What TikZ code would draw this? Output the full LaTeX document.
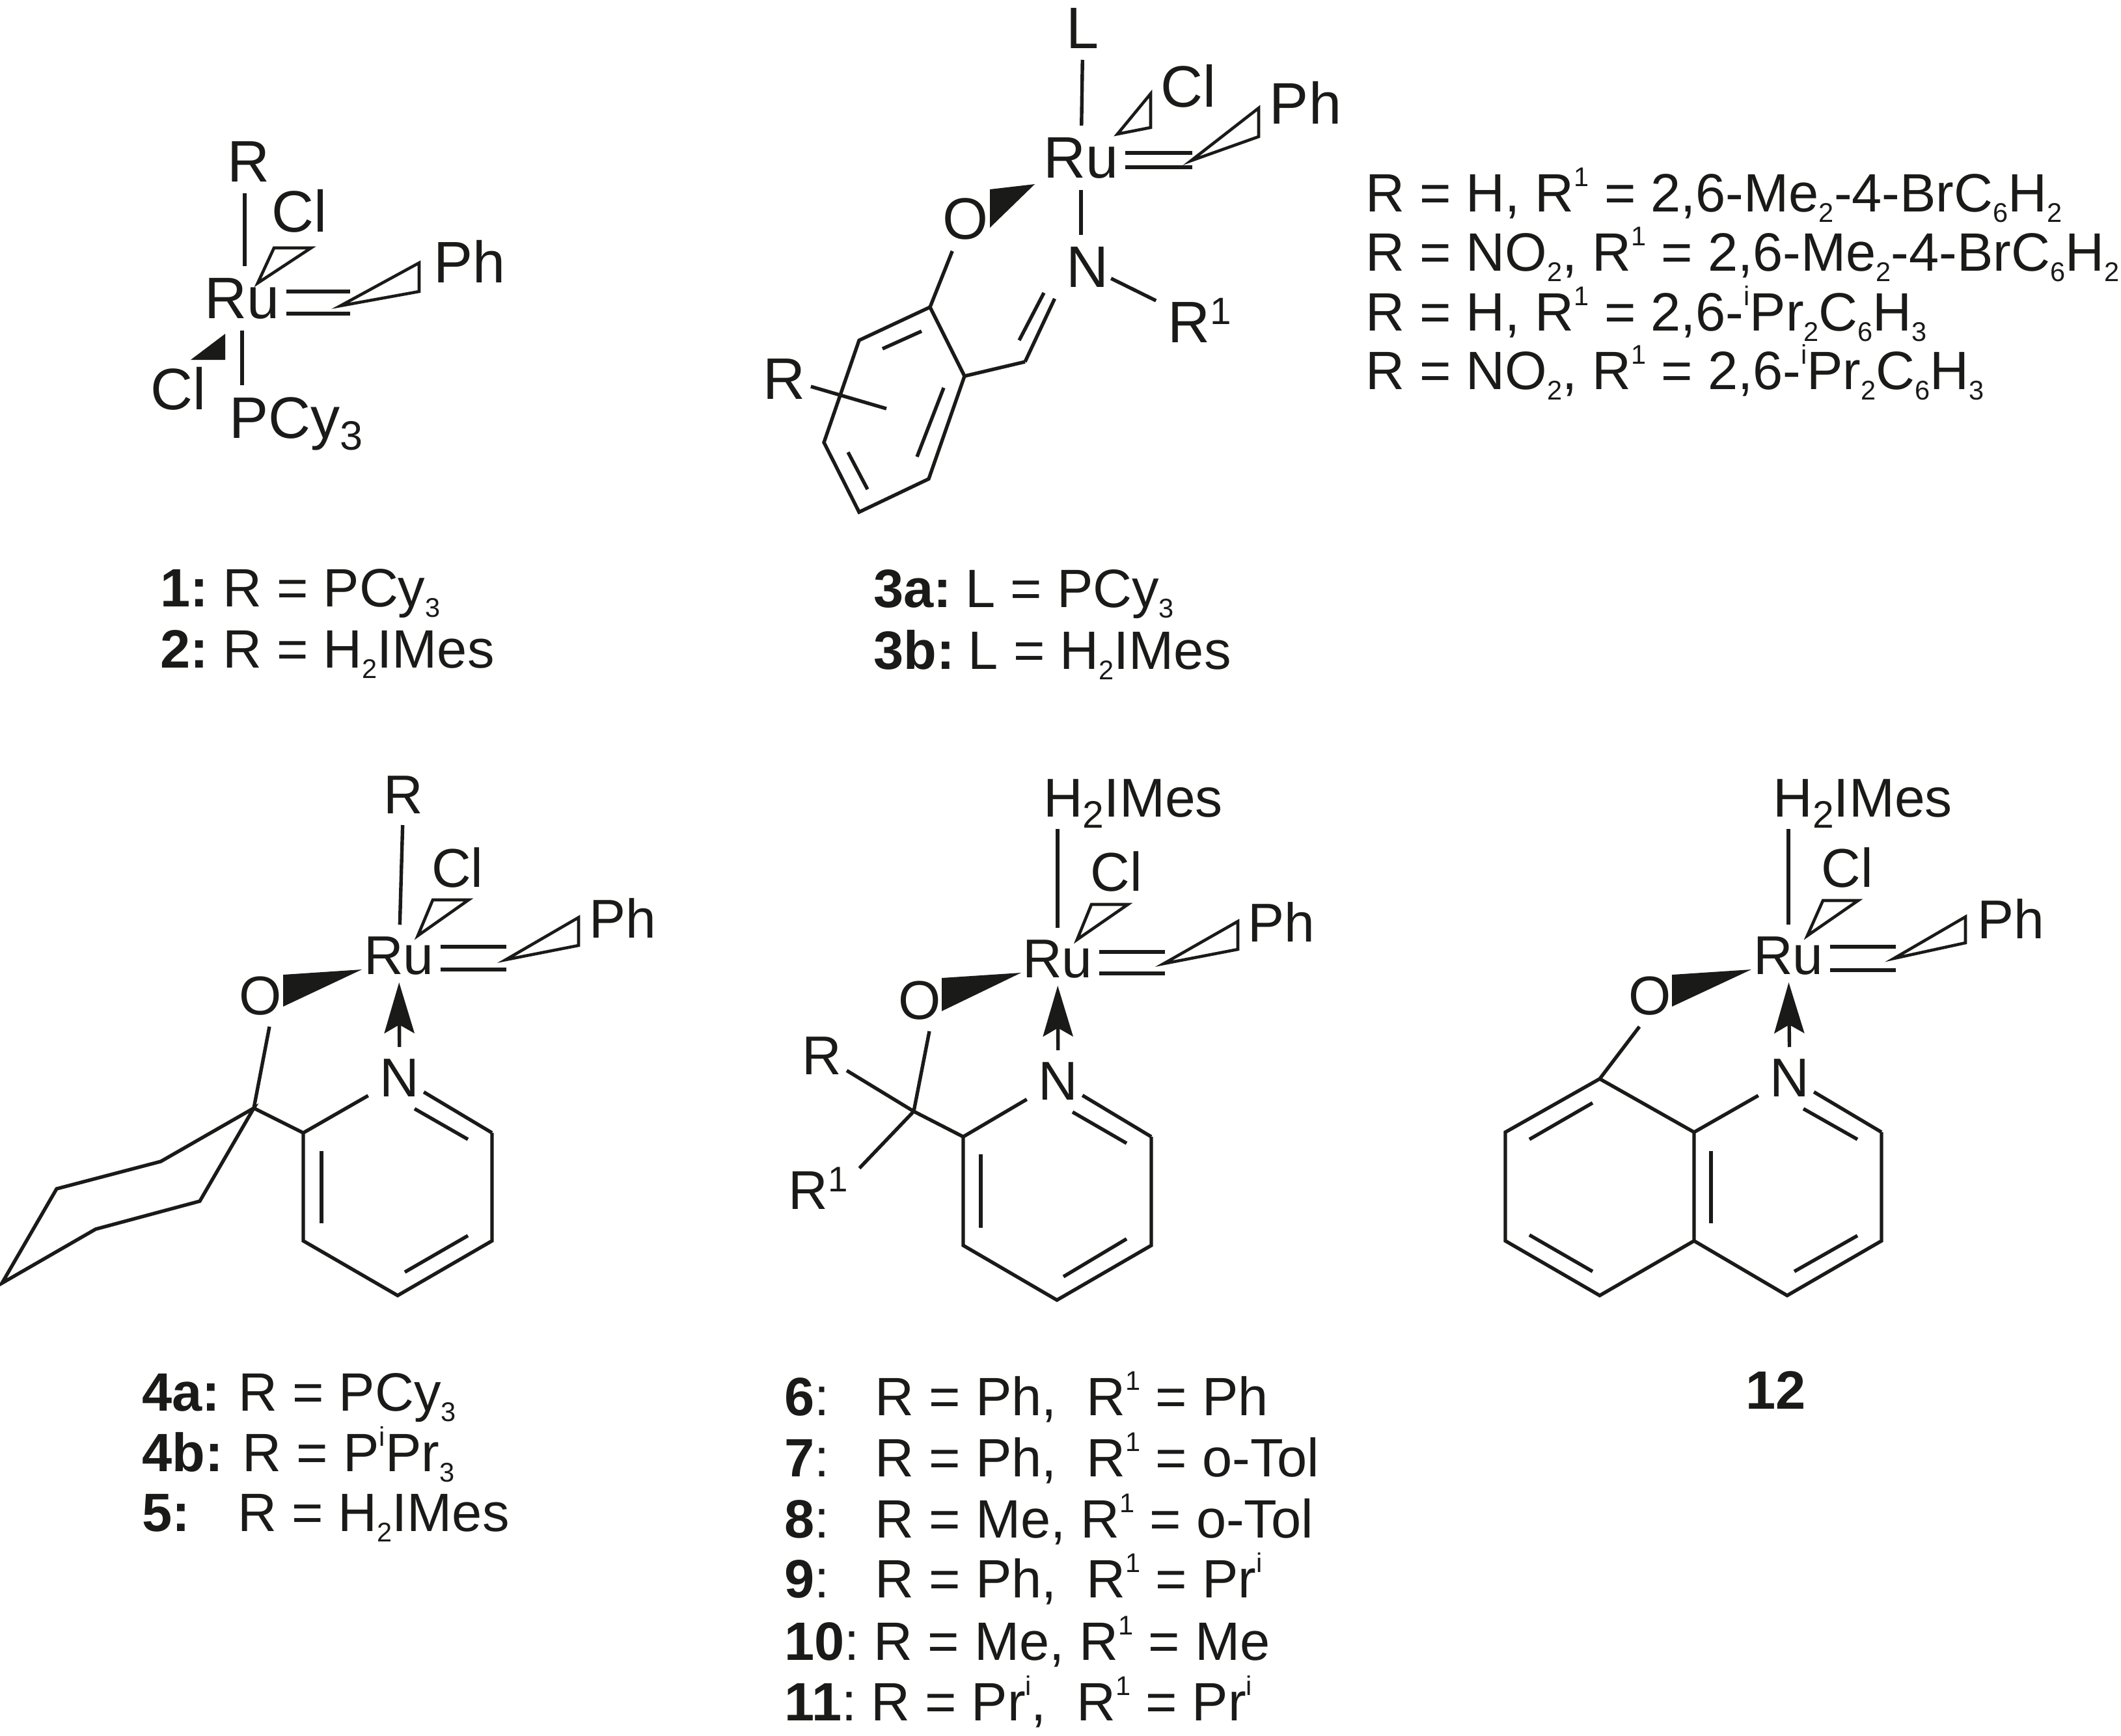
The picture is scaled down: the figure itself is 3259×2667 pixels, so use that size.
\documentclass[tikz,border=0pt]{standalone}
\usepackage{fontspec}
\setmainfont{Liberation Sans}
\usetikzlibrary{arrows.meta}
\definecolor{ink}{HTML}{1A1A18}
% sub- and superscripts that leave the node size alone
\newcommand{\capsub}[1]{\raisebox{-.2em}[0pt][0pt]{\scalebox{.5}{#1}}}
\newcommand{\capsup}[1]{\raisebox{.46em}[0pt][0pt]{\scalebox{.5}{#1}}}
\newcommand{\atomsub}[1]{\raisebox{-.21em}[0pt][0pt]{\scalebox{.7}{#1}}}
\newcommand{\atomsup}[1]{\raisebox{.31em}[0pt][0pt]{\scalebox{.65}{#1}}}
\tikzset{
    atom/.style={inner sep=0pt,outer sep=9pt,anchor=base,font=\fontsize{42}{50}\selectfont},
    atombig/.style={atom,font=\fontsize{45}{50}\selectfont},
    caption/.style={inner sep=0pt,anchor=base west,font=\fontsize{41.5}{50}\selectfont},
    bond/.style={line width=2.7pt},
    dbl/.style={bond,shorten <=-4pt},
    hollow/.style={line width=2.3pt},
    dative/.style={bond,-{Stealth[length=39pt,width=23pt,inset=6.5pt]},shorten >=-3pt}
}
\begin{document}
\begin{tikzpicture}[x=.5pt,y=-.5pt,color=ink]
    \useasboundingbox (0,0) rectangle (3259,2667);

    % compound 1 and 2
    \node[atombig] (ruA) at (372,489) {Ru};
    \node[atombig] (rA) at (382,279) {R};
    \node[atombig] (clA) at (460,356) {Cl};
    \node[atombig] (phA) at (722,434) {Ph};
    \node[atombig] (clB) at (274,629) {Cl};
    \node[atombig] (pcyA) at (455,673) {PCy\atomsub{3}};
    \coordinate (a1) at (538,448);
    \coordinate (a2) at (538,482);
    \draw[bond] ([xshift=2pt]ruA.north) -- ([xshift=2pt]ruA.north |- rA.south);
    \draw[bond] (ruA) -- (ruA |- pcyA.north);
    \draw[dbl] (ruA.east |- a1) -- (a1);
    \draw[dbl] (ruA.east |- a2) -- (a2);
    \draw[hollow] (396,435) -- (421,381) -- (478,381) -- cycle;
    \draw[hollow] (523,470) -- (644,404) -- (644,448) -- cycle;
    \fill (346,513) -- (346,553) -- (293,553) -- cycle;
    \node[caption] (capA) at (246,932) {\textbf{1:}\hspace{11pt}R = PCy\capsub{3}};
    \node[caption] (capB) at (246,1026) {\textbf{2:}\hspace{11pt}R = H\capsub{2}IMes};

    % compound 3
    \node[atombig] (ruC) at (1661,273) {Ru};
    \node[atombig] (lC) at (1664,74) {L};
    \node[atombig] (clC) at (1826,164) {Cl};
    \node[atombig] (phC) at (2006,190) {Ph};
    \node[atombig] (oC) at (1483,367) {O};
    \node[atombig] (nC) at (1671,441) {N};
    \node[atombig] (r1C) at (1843,526) {R\atomsup{1}};
    \node[atombig] (rC) at (1205,613) {R};
    \foreach \name/\x/\y in {b1/1832/235,b2/1832/257,c1/1429/472,c2/1320/523,c3/1266/680,
        c4/1320/787,c5/1427/736,c6/1482/578,ch/1575/556,stub/1362/628,
        e1/1356/536,e2/1416/509,e3/1303/695,e4/1333/752,e5/1409/702,e6/1450/596,e7/1566/523,e8/1604/450}
        \coordinate (\name) at (\x,\y);
    \draw[bond] (lC) -- (ruC);
    \draw[bond] (ruC.south) -- (ruC.south |- nC.north);
    \draw[dbl] (ruC.east |- b1) -- (b1);
    \draw[dbl] (ruC.east |- b2) -- (b2);
    \draw[hollow] (1717,206) -- (1768,144) -- (1768,196) -- cycle;
    \draw[hollow] (1830,247) -- (1934,166) -- (1934,210) -- cycle;
    \fill (1590,283) -- (1521,291) -- (1521,350) -- cycle;
    \draw[bond] (oC) -- (c1);
    \draw[bond] (c1) -- (c2) -- (c3) -- (c4) -- (c5) -- (c6) -- cycle;
    \draw[bond] (c6) -- (ch);
    \draw[bond] (ch) -- (nC.south west);
    \draw[bond,shorten <=-8pt] (nC) -- (r1C);
    \draw[bond,shorten <=-5pt] (rC) -- (stub);
    \foreach \p/\q in {e1/e2,e3/e4,e5/e6,e7/e8}
        \draw[bond] (\p) -- (\q);
    \node[caption] (capC) at (1342,933) {\textbf{3a:}\hspace{10.5pt}L = PCy\capsub{3}};
    \node[caption] (capD) at (1342,1028) {\textbf{3b:}\hspace{10.5pt}L = H\capsub{2}IMes};

    % substituents of compound 3
    \node[caption] (subA) at (2098,325) {R = H, R\capsup{1} = 2,6-Me\capsub{2}-4-BrC\capsub{6}H\capsub{2}};
    \node[caption] (subB) at (2098,416) {R = NO\capsub{2}, R\capsup{1} = 2,6-Me\capsub{2}-4-BrC\capsub{6}H\capsub{2}};
    \node[caption] (subC) at (2098,508) {R = H, R\capsup{1} = 2,6-\capsup{i}Pr\capsub{2}C\capsub{6}H\capsub{3}};
    \node[caption] (subD) at (2098,598) {R = NO\capsub{2}, R\capsup{1} = 2,6-\capsup{i}Pr\capsub{2}C\capsub{6}H\capsub{3}};

    % compound 4 and 5
    \node[atom] (ruD) at (613,1497) {Ru};
    \node[atom] (rD) at (620,1250) {R};
    \node[atom] (clD) at (703,1363) {Cl};
    \node[atom] (phD) at (957,1441) {Ph};
    \node[atom] (oD) at (400,1559) {O};
    \node[atom] (nD) at (614,1685) {N};
    \foreach \name/\x/\y in {f1/778/1455,f2/778/1490,d1/390/1703,d2/466/1741,d3/756/1741,d4/756/1907,
        d5/611/1991,d6/466/1907,y1/247/1785,y2/87/1827,y3/3/1972,y4/147/1889,y5/307/1846,
        g1/637/1704,g2/719/1751,g3/494/1769,g4/494/1880,g5/622/1955,g6/719/1899}
        \coordinate (\name) at (\x,\y);
    \draw[bond] (rD) -- (ruD);
    \draw[dbl] (ruD.east |- f1) -- (f1);
    \draw[dbl] (ruD.east |- f2) -- (f2);
    \draw[hollow] (642,1438) -- (665,1383) -- (720,1383) -- cycle;
    \draw[hollow] (777,1475) -- (889,1410) -- (889,1453) -- cycle;
    \fill (556,1490) -- (435,1498) -- (435,1547) -- cycle;
    \draw[dative] (nD) -- (ruD);
    \draw[bond] ([xshift=7pt]oD.south) -- (d1);
    \draw[bond] (d1) -- (d2);
    \draw[bond] (nD) -- (d2) -- (d6) -- (d5) -- (d4) -- (d3);
    \draw[bond,shorten >=-6.5pt] (d3) -- (nD);
    \draw[bond] (d1) -- (y1) -- (y2) -- (y3) -- (y4) -- (y5) -- cycle;
    \foreach \p/\q in {g1/g2,g3/g4,g5/g6}
        \draw[bond] (\p) -- (\q);
    \node[caption] (capE) at (218,2168) {\textbf{4a:}\hspace{14pt}R = PCy\capsub{3}};
    \node[caption] (capF) at (218,2261) {\textbf{4b:}\hspace{15pt}R = P\capsup{i}Pr\capsub{3}};
    \node[caption] (capG) at (218,2353) {\textbf{5:}\hspace{36.5pt}R = H\capsub{2}IMes};

    % compound 6 to 11
    \node[atom] (ruF) at (1625,1502) {Ru};
    \node[atom] (hF) at (1741,1255) {H\atomsub{2}IMes};
    \node[atom] (clF) at (1715,1369) {Cl};
    \node[atom] (phF) at (1969,1447) {Ph};
    \node[atom] (oF) at (1413,1566) {O};
    \node[atom] (nF) at (1626,1690) {N};
    \node[atom] (rF) at (1263,1651) {R};
    \node[atom] (r1F) at (1257,1858) {R\atomsup{1}};
    \foreach \name/\x/\y in {h1/1790/1463,h2/1790/1496,k1/1404/1708,k2/1480/1747,k3/1769/1747,k4/1769/1914,
        k5/1624/1998,k6/1480/1914,m1/1648/1709,m2/1731/1757,m3/1507/1774,m4/1507/1887,m5/1634/1962,m6/1731/1904}
        \coordinate (\name) at (\x,\y);
    \draw[bond] (ruF) -- (ruF |- hF.south);
    \draw[dbl] (ruF.east |- h1) -- (h1);
    \draw[dbl] (ruF.east |- h2) -- (h2);
    \draw[hollow] (1655,1444) -- (1677,1390) -- (1733,1390) -- cycle;
    \draw[hollow] (1788,1481) -- (1902,1416) -- (1902,1459) -- cycle;
    \fill (1569,1495) -- (1447,1503) -- (1447,1554) -- cycle;
    \draw[dative] (nF) -- (ruF);
    \draw[bond] ([xshift=7.5pt]oF.south) -- (k1);
    \draw[bond,shorten <=-6pt] (rF) -- (k1);
    \draw[bond] (r1F.28) -- (k1);
    \draw[bond] (k1) -- (k2);
    \draw[bond] (nF) -- (k2) -- (k6) -- (k5) -- (k4) -- (k3);
    \draw[bond,shorten >=-6.5pt] (k3) -- (nF);
    \foreach \p/\q in {m1/m2,m3/m4,m5/m6}
        \draw[bond] (\p) -- (\q);
    \node[caption] (capH) at (1205,2175) {\textbf{6}:\hspace{35pt}R = Ph,~~R\capsup{1} = Ph};
    \node[caption] (capI) at (1205,2269) {\textbf{7}:\hspace{35pt}R = Ph,~~R\capsup{1} = o-Tol};
    \node[caption] (capJ) at (1205,2363) {\textbf{8}:\hspace{35pt}R = Me, R\capsup{1} = o-Tol};
    \node[caption] (capK) at (1205,2455) {\textbf{9}:\hspace{35pt}R = Ph,~~R\capsup{1} = Pr\capsup{i}};
    \node[caption] (capL) at (1205,2551) {\textbf{10}:\hspace{11pt}R = Me, R\capsup{1} = Me};
    \node[caption] (capM) at (1205,2644) {\textbf{11}:\hspace{11pt}R = Pr\capsup{i},~~R\capsup{1} = Pr\capsup{i}};

    % compound 12
    \node[atom] (ruL) at (2748,1497) {Ru};
    \node[atom] (hL) at (2862,1255) {H\atomsub{2}IMes};
    \node[atom] (clL) at (2838,1363) {Cl};
    \node[atom] (phL) at (3090,1442) {Ph};
    \node[atom] (oL) at (2535,1559) {O};
    \node[atom] (nL) at (2750,1685) {N};
    \foreach \name/\x/\y in {n1/2913/1455,n2/2913/1491,q1/2458/1658,q2/2313/1740,q3/2313/1907,q4/2458/1991,
        q5/2603/1907,q6/2603/1740,q7/2891/1740,q8/2891/1907,q9/2746/1991,
        s1/2350/1751,s2/2447/1695,s3/2350/1898,s4/2447/1954,s5/2629/1769,s6/2629/1880,
        s7/2771/1704,s8/2854/1751,s9/2757/1954,s10/2854/1899}
        \coordinate (\name) at (\x,\y);
    \draw[bond] (ruL) -- (ruL |- hL.south);
    \draw[dbl] (ruL.east |- n1) -- (n1);
    \draw[dbl] (ruL.east |- n2) -- (n2);
    \draw[hollow] (2777,1438) -- (2801,1384) -- (2855,1384) -- cycle;
    \draw[hollow] (2910,1473) -- (3020,1409) -- (3020,1449) -- cycle;
    \fill (2691,1490) -- (2569,1498) -- (2569,1547) -- cycle;
    \draw[dative] (nL) -- (ruL);
    \draw[bond] ([xshift=-8pt]oL.south) -- (q1);
    \draw[bond] (q6) -- (q1) -- (q2) -- (q3) -- (q4) -- (q5) -- cycle;
    \draw[bond] (nL) -- (q6);
    \draw[bond] (q5) -- (q9) -- (q8) -- (q7);
    \draw[bond,shorten >=-6.5pt] (q7) -- (nL);
    \foreach \p/\q in {s1/s2,s3/s4,s5/s6,s7/s8,s9/s10}
        \draw[bond] (\p) -- (\q);
    \node[caption] (capN) at (2682,2165) {\textbf{12}};
\end{tikzpicture}
\end{document}
